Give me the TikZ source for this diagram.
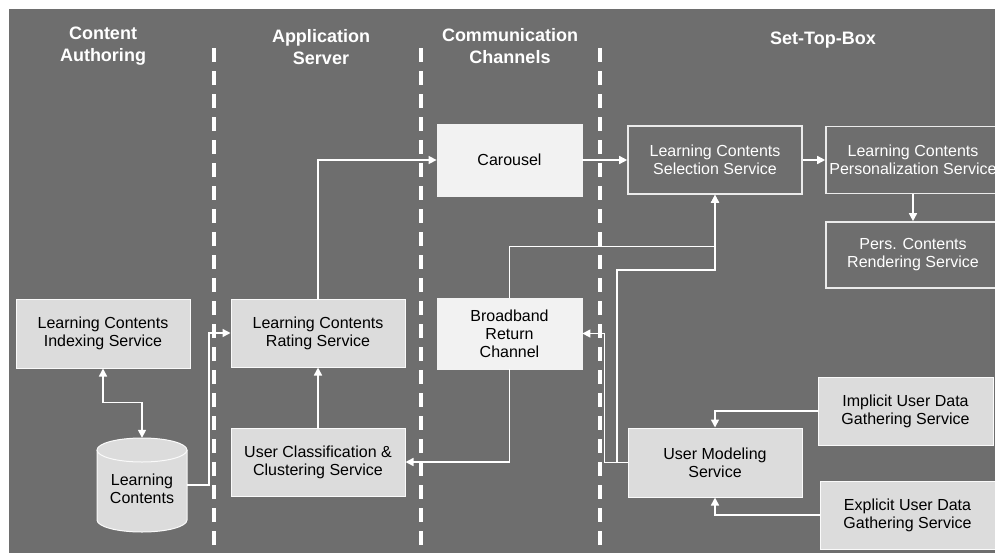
\documentclass[tikz,border=0pt]{standalone}
\usepackage{fontspec}
\setmainfont{Liberation Sans}
\usetikzlibrary{arrows.meta}
\definecolor{bg}{HTML}{6E6E6E}
\definecolor{lite}{HTML}{F2F2F2}
\definecolor{mid}{HTML}{DCDCDC}
\begin{document}
\begin{tikzpicture}[x=1pt,y=-1pt,
  base/.style={rectangle, align=center, inner sep=0pt, font=\fontsize{16}{18}\selectfont},
  lbox/.style={base, fill=lite, draw=lite, line width=0.8pt, text=black},
  mbox/.style={base, fill=mid, draw=white!85!mid, line width=1pt, text=black},
  gbox/.style={base, fill=bg, draw=white!92!black, line width=1.6pt, text=white},
  hdr/.style={align=center, text=white, font=\bfseries\fontsize{18}{22}\selectfont},
  arr/.style={draw=white, line width=1.5pt, -{Triangle[length=8pt,width=8pt]}},
  darr/.style={draw=white, line width=1.5pt, {Triangle[length=8pt,width=8pt]}-{Triangle[length=8pt,width=8pt]}},
  sep/.style={draw=white, line width=3.5pt, dash pattern=on 14pt off 9pt}]
\useasboundingbox (0,0) rectangle (995,554);
\fill[white] (0,0) rectangle (995,554);
\fill[bg] (9,9) rectangle (995,553);

% column separators
\draw[sep] (214,48) -- (214,545);
\draw[sep] (421,48) -- (421,545);
\draw[sep] (600,48) -- (600,545);

% headers
\node[hdr] (h1) at (103,46) {Content\\Authoring};
\node[hdr] (h2) at (321,47) {Application\\Server};
\node[hdr] (h3) at (510,46) {Communication\\Channels};
\node[hdr] (h4) at (823,40) {Set-Top-Box};

% boxes
\node[lbox, minimum width=145pt, minimum height=72pt] (car) at (509.5,160) {Carousel};
\node[gbox, minimum width=174pt, minimum height=68pt] (sel) at (715,160) {Learning Contents\\Selection Service};
\node[gbox, minimum width=174pt, minimum height=67pt] (pers) at (913,160) {Learning Contents\\Personalization Service};
\node[gbox, minimum width=174pt, minimum height=66pt] (rend) at (913,255) {Pers. Contents\\Rendering Service};
\node[mbox, minimum width=174pt, minimum height=69pt] (idx) at (103,333.5) {Learning Contents\\Indexing Service};
\node[mbox, minimum width=174pt, minimum height=68pt] (rate) at (318,333) {Learning Contents\\Rating Service};
\node[mbox, minimum width=174pt, minimum height=68pt] (ucc) at (318,462) {User Classification \&\\Clustering Service};
\node[lbox, minimum width=145pt, minimum height=71pt] (bb) at (509.5,333.5) {Broadband\\Return\\Channel};
\node[mbox, minimum width=174pt, minimum height=69pt] (um) at (715,462.5) {User Modeling\\Service};
\node[mbox, minimum width=175pt, minimum height=68pt] (imp) at (905.5,411) {Implicit User Data\\Gathering Service};
\node[mbox, minimum width=175pt, minimum height=68pt] (exp) at (907.5,515) {Explicit User Data\\Gathering Service};

% database cylinder
\fill[mid] (97,450) rectangle (187,520);
\fill[mid] (142,520) ellipse [x radius=45pt, y radius=12pt];
\draw[white!85!mid, line width=1pt] (97,450) -- (97,520) arc[start angle=180, end angle=360, x radius=45pt, y radius=12pt] -- (187,450);
\draw[white!85!mid, line width=1pt, fill=mid] (142,450) ellipse [x radius=45pt, y radius=12pt];
\node[base, minimum width=90pt, minimum height=94pt] (lc) at (142,485) {};
\node[base, text=black] (lct) at (142,489) {Learning\\Contents};

% connectors
\coordinate (j1) at (209,333);
\coordinate (j2) at (617,270);
\draw[arr] (rate.north) |- (car.west);
\draw[arr] (car.east) -- (sel.west);
\draw[arr] (sel.east) -- (pers.west);
\draw[arr] (pers.south) -- (rend.north);
\draw[darr] (idx.south) -- ++(0,34) -| (lc.north);
\draw[arr] (lc.east) -| (j1) -- (rate.west);
\draw[arr] (ucc.north) -- (rate.south);
\draw[arr] (bb.south) |- (ucc.east);
\draw[arr] (um.west) -- ++(-23,0) |- (bb.east);
\draw[arr] (bb.north) -- ++(0,-51) -| (sel.south);
\draw[arr] (um.west) -| (j2) -| (sel.south);
\draw[arr] (imp.west) -| (um.north);
\draw[arr] (exp.west) -| (um.south);
\end{tikzpicture}
\end{document}
